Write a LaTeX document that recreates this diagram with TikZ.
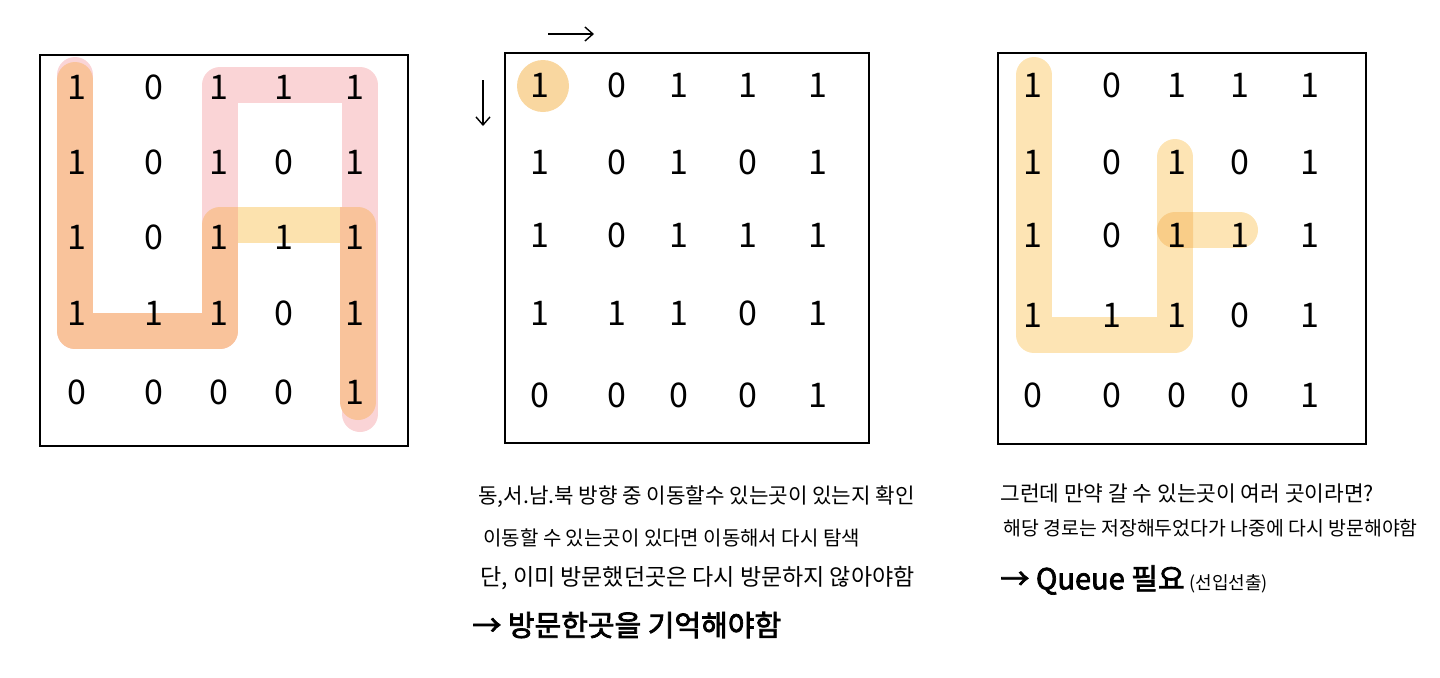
\documentclass[tikz,border=0pt]{standalone}
\usepackage{fontspec}
\setmainfont{Noto Sans CJK KR}
\newfontfamily\krb[FakeBold=2.5]{Noto Sans CJK KR}
\usetikzlibrary{arrows.meta}
\definecolor{pinkhl}{RGB}{250,212,214}
\definecolor{orghl}{RGB}{249,195,155}
\definecolor{yelhl}{RGB}{252,226,174}
\definecolor{lyel}{RGB}{253,228,180}
\definecolor{dyel}{RGB}{249,205,136}
\definecolor{dotc}{RGB}{249,215,160}
\newcommand\mygrid[3]{%
  \foreach \vals [count=\r] in {{1,0,1,1,1},{1,0,1,0,1},{1,0,1,1,1},{1,1,1,0,1},{0,0,0,0,1}}{%
    \foreach \v [count=\c] in \vals {%
      \pgfmathsetmacro\xx{{#2}[\c-1]}%
      \pgfmathsetmacro\yy{{#3}[\r-1]}%
      \node[digit] (#1\r\c) at (\xx,\yy) {\v};
    }}}
\begin{document}
\begin{tikzpicture}[x=0.5pt,y=-0.5pt,
  frame/.style={draw=black, line width=1pt},
  digit/.style={font=\fontsize{17}{17}\selectfont, inner sep=0pt},
  band/.style={line width=18pt, line cap=round, line join=round},
  note/.style={anchor=west, inner sep=0pt, font=\fontsize{10}{12}\selectfont},
  arrowline/.style={line width=0.7pt, -{Straight Barb[length=4pt,width=7pt]}}]
\useasboundingbox (0,0) rectangle (1440,677);
% ---- left highlights
\draw[band, pinkhl] (75,75) -- (75,331) -- (220,331) -- (220,85) -- (360,85) -- (360,414);
\draw[band, orghl] (75,80) -- (75,331) -- (220,331) -- (220,225) -- (358,225) -- (358,402);
\draw[line width=18pt, yelhl] (238,225) -- (340,225);
% ---- middle highlight
\fill[dotc] (543,86) circle [radius=26];
% ---- right highlights
\draw[band, lyel] (1034,75) -- (1034,335) -- (1175,335) -- (1175,157);
\draw[band, lyel] (1175,230) -- (1240,230);
\begin{scope}
  \clip (1157,120) rectangle (1193,360);
  \draw[band, dyel] (1175,230) -- (1240,230);
\end{scope}
% ---- frames
\draw[frame] (40,55) rectangle (408,446);
\draw[frame] (505,53) rectangle (869,443);
\draw[frame] (998,53) rectangle (1366,444);
% ---- digits
\mygrid{L}{77,154,219,284,355}{87,162,237,313,392}
\mygrid{M}{540,617,679,748,818}{85,162,235,313,395}
\mygrid{R}{1033,1112,1177,1240,1310}{85,162,235,315,395}
% ---- direction arrows
\coordinate (ha) at (548,34);
\coordinate (hb) at (594,34);
\coordinate (va) at (483,80);
\coordinate (vb) at (483,126);
\draw[arrowline] (ha) -- (hb);
\draw[arrowline] (va) -- (vb);
% ---- notes
\node[note, font=\fontsize{10.6}{12}\selectfont] (t1) at (478,497) {동,서.남.북 방향 중 이동할수 있는곳이 있는지 확인};
\node[note] (t2) at (483,538) {이동할 수 있는곳이 있다면 이동해서 다시 탐색};
\node[note, font=\fontsize{11.5}{13}\selectfont] (t3) at (480,578) {단, 이미 방문했던곳은 다시 방문하지 않아야함};
\node[note, font=\krb\fontsize{14.5}{16}\selectfont] (t4) at (472,625) {→ 방문한곳을 기억해야함};
\node[note, font=\fontsize{10.7}{12}\selectfont] (r1) at (1000,493) {그런데 만약 갈 수 있는곳이 여러 곳이라면?};
\node[note, font=\fontsize{9.7}{11}\selectfont] (r2) at (1003,528) {해당 경로는 저장해두었다가 나중에 다시 방문해야함};
\node[note, font=\krb\fontsize{14.5}{17}\selectfont] (r3) at (1000,580) {→ Queue 필요};
\node[inner sep=0pt, anchor=base west, font=\fontsize{9}{11}\selectfont] (r4) at ([xshift=2pt]r3.base east) {(선입선출)};
\end{tikzpicture}
\end{document}
